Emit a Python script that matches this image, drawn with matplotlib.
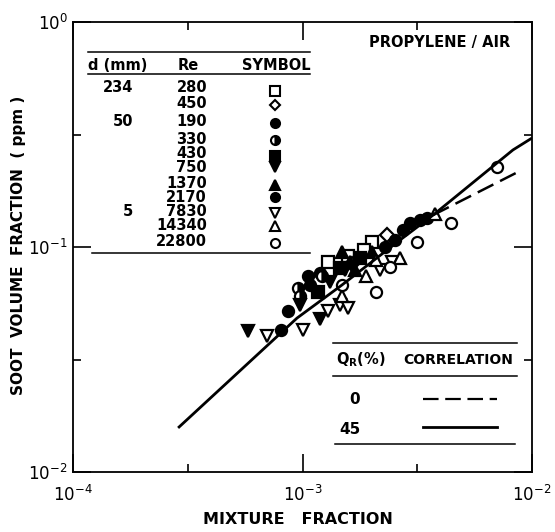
import math
import matplotlib
matplotlib.use("Agg")
import matplotlib.pyplot as plt
from matplotlib.ticker import FixedLocator, FuncFormatter, NullFormatter

plt.rcParams["font.family"] = ["DejaVu Sans"]

# ---------------- data ----------------
d_mm = ["234", "", "50", "", "", "", "", "", "5", "", ""]
re_vals = ["280", "450", "190", "330", "430", "750", "1370", "2170", "7830", "14340", "22800"]

x_sq = [1.29e-3, 1.585e-3, 2.0e-3, 1.86e-3]
y_sq = [0.0858, 0.0912, 0.105, 0.097]
x_dm = [2.33e-3, 1.64e-3]
y_dm = [0.1125, 0.084]
x_c190 = [1.057e-3, 1.079e-3, 8.65e-4, 8.05e-4, 1.19e-3]
y_c190 = [0.0746, 0.068, 0.0517, 0.0428, 0.077]
x_h330 = [9.55e-4, 9.75e-4, 1.216e-3]
y_h330 = [0.0658, 0.0606, 0.0746]
x_s430 = [1.168e-3, 1.456e-3, 1.78e-3]
y_s430 = [0.063, 0.0807, 0.0894]
x_v750 = [5.79e-4, 9.75e-4, 1.19e-3, 1.318e-3, 1.531e-3]
y_v750 = [0.0423, 0.0555, 0.0479, 0.0699, 0.079]
x_t1370 = [1.486e-3, 1.61e-3, 1.694e-3, 2.0e-3]
y_t1370 = [0.0946, 0.0858, 0.079, 0.0946]
x_c2170 = [2.94e-3, 2.74e-3, 3.25e-3, 3.49e-3, 2.29e-3, 2.53e-3]
y_c2170 = [0.128, 0.119, 0.132, 0.1345, 0.1005, 0.1074]
x_v7830 = [7.0e-4, 1.005e-3, 1.29e-3, 1.456e-3, 1.585e-3, 2.18e-3, 2.455e-3]
y_v7830 = [0.0402, 0.0428, 0.0517, 0.0555, 0.0536, 0.079, 0.0858]
x_t14340 = [1.486e-3, 2.10e-3, 2.66e-3, 3.78e-3, 1.89e-3]
y_t14340 = [0.0606, 0.0875, 0.0894, 0.140, 0.0746]
x_o22800 = [1.486e-3, 2.10e-3, 2.40e-3, 3.15e-3, 4.44e-3, 7.04e-3]
y_o22800 = [0.0681, 0.063, 0.0815, 0.1052, 0.128, 0.227]

# correlations
x_q45 = [2.87e-4, 9.46e-4, 1.486e-3, 2.66e-3, 3.71e-3, 8.26e-3, 1.0e-2]
y_q45 = [0.0157, 0.0483, 0.0678, 0.1074, 0.1387, 0.27, 0.305]
x_q0 = [3.71e-3, 9.04e-3]
y_q0 = [0.1387, 0.22]

qr_vals = ["0", "45"]

# ---------------- figure ----------------
W, H = 555, 532
fig = plt.figure(figsize=(W / 100, H / 100), dpi=100)
L, R, T, B = 73, 532, 22, 472
ax = fig.add_axes([L / W, 1 - B / H, (R - L) / W, (B - T) / H])
ax.set_xscale("log")
ax.set_yscale("log")
ax.set_xlim(1e-4, 1e-2)
ax.set_ylim(1e-2, 1e0)

for s in ax.spines.values():
    s.set_linewidth(1.3)

ax.xaxis.set_major_locator(FixedLocator([1e-4, 1e-3, 1e-2]))
ax.yaxis.set_major_locator(FixedLocator([1e-2, 1e-1, 1e0]))
ax.xaxis.set_minor_locator(FixedLocator([10 ** -3.5, 10 ** -2.5]))
ax.yaxis.set_minor_locator(FixedLocator([10 ** -1.5, 10 ** -0.5]))
ax.xaxis.set_minor_formatter(NullFormatter())
ax.yaxis.set_minor_formatter(NullFormatter())


def fmt(v, pos):
    e = int(round(math.log10(v)))
    return r"$\mathregular{10^{%d}}$" % e


ax.xaxis.set_major_formatter(FuncFormatter(fmt))
ax.yaxis.set_major_formatter(FuncFormatter(fmt))
ax.tick_params(which="major", direction="in", length=13, width=1.2,
               top=True, right=True, labelsize=12, pad=9)
ax.tick_params(which="minor", direction="in", length=6, width=1.2,
               top=True, right=True)
ax.tick_params(axis="y", which="major", pad=4)

ms = 8
kw = dict(linestyle="none", markersize=ms, markeredgewidth=1.6, color="black")
ax.plot(x_sq, y_sq, marker="s", markerfacecolor="white", **kw)
ax.plot(x_dm, y_dm, marker="D", markerfacecolor="white", markersize=7,
        linestyle="none", markeredgewidth=1.6, color="black")
ax.plot(x_c190, y_c190, marker="o", markerfacecolor="black", **kw)
ax.plot(x_h330, y_h330, marker="o", fillstyle="right", markerfacecoloralt="white", **kw)
ax.plot(x_s430, y_s430, marker="s", markerfacecolor="black", **kw)
ax.plot(x_v750, y_v750, marker="v", markerfacecolor="black", **kw)
ax.plot(x_t1370, y_t1370, marker="^", markerfacecolor="black", **kw)
ax.plot(x_c2170, y_c2170, marker="o", markerfacecolor="black", **kw)
ax.plot(x_v7830, y_v7830, marker="v", markerfacecolor="white", **kw)
ax.plot(x_t14340, y_t14340, marker="^", markerfacecolor="white", **kw)
ax.plot(x_o22800, y_o22800, marker="o", markerfacecolor="white", **kw)

ax.plot(x_q45, y_q45, color="black", linewidth=2.0, solid_capstyle="butt")
ax.plot(x_q0, y_q0, color="black", linewidth=1.8, dashes=(7, 3))

# axis labels
fig.text(298 / W, 1 - 519 / H, "MIXTURE   FRACTION", ha="center", va="center",
         fontsize=11.5, fontweight="bold")
fig.text(19 / W, 1 - 245 / H, "SOOT  VOLUME  FRACTION  ( ppm )", ha="center",
         va="center", rotation=90, fontsize=11, fontweight="bold")


# helpers in pixel coords
def ax_xy(px, py):
    return (px - L) / (R - L), (B - py) / (B - T)


def hline(x0, x1, y, lw=1.1, **k):
    a0 = ax_xy(x0, y)
    a1 = ax_xy(x1, y)
    ax.plot([a0[0], a1[0]], [a0[1], a1[1]], transform=ax.transAxes,
            color="black", linewidth=lw, clip_on=False, **k)


def txt(px, py, s, ha="left", size=10.5, weight="semibold"):
    a = ax_xy(px, py)
    ax.text(a[0], a[1], s, transform=ax.transAxes, ha=ha, va="center",
            fontsize=size, fontweight=weight)


txt(440, 42, "PROPYLENE / AIR", ha="center", size=10.5)

# table 1
hline(88, 310, 52)
txt(88, 66, "d (mm)", size=10.5)
txt(188, 66, "Re", ha="center", size=10.5)
txt(276, 66, "SYMBOL", ha="center", size=10.5)
hline(88, 310, 74)
row_y = [88, 103, 121, 139, 154, 167, 184, 197, 211, 226, 242]
sym_y = [91, 105, 123, 140, 156, 167, 185, 197, 213, 226, 243]
for d, r, yy in zip(d_mm, re_vals, row_y):
    if d:
        txt(133, yy, d, ha="right", size=10.5)
    txt(207, yy, r, ha="right", size=10.5)
sym_specs = [
    dict(marker="s", markerfacecolor="white"),
    dict(marker="D", markerfacecolor="white", markersize=5.5),
    dict(marker="o", markerfacecolor="black"),
    dict(marker="o", fillstyle="right", markerfacecoloralt="white"),
    dict(marker="s", markerfacecolor="black"),
    dict(marker="v", markerfacecolor="black"),
    dict(marker="^", markerfacecolor="black"),
    dict(marker="o", markerfacecolor="black"),
    dict(marker="v", markerfacecolor="white"),
    dict(marker="^", markerfacecolor="white"),
    dict(marker="o", markerfacecolor="white"),
]
for spec, yy in zip(sym_specs, sym_y):
    a = ax_xy(275, yy)
    k = dict(markersize=6.5, markeredgewidth=1.5, color="black", linestyle="none")
    k.update(spec)
    ax.plot([a[0]], [a[1]], transform=ax.transAxes, clip_on=False, **k)
hline(92, 310, 253)

# table 2
hline(333, 517, 343)
txt(336, 360, r"Q$_\mathregular{R}$(%)", size=10.5)
txt(513, 360, "CORRELATION", ha="right", size=10)
hline(333, 517, 376)
txt(355, 400, qr_vals[0], ha="center", size=11)
hline(423, 497, 399, lw=1.6, dashes=(7, 3))
txt(350, 430, qr_vals[1], ha="center", size=11)
hline(423, 497, 427, lw=2.0)
hline(335, 515, 444)

fig.savefig("out.png", dpi=100)
